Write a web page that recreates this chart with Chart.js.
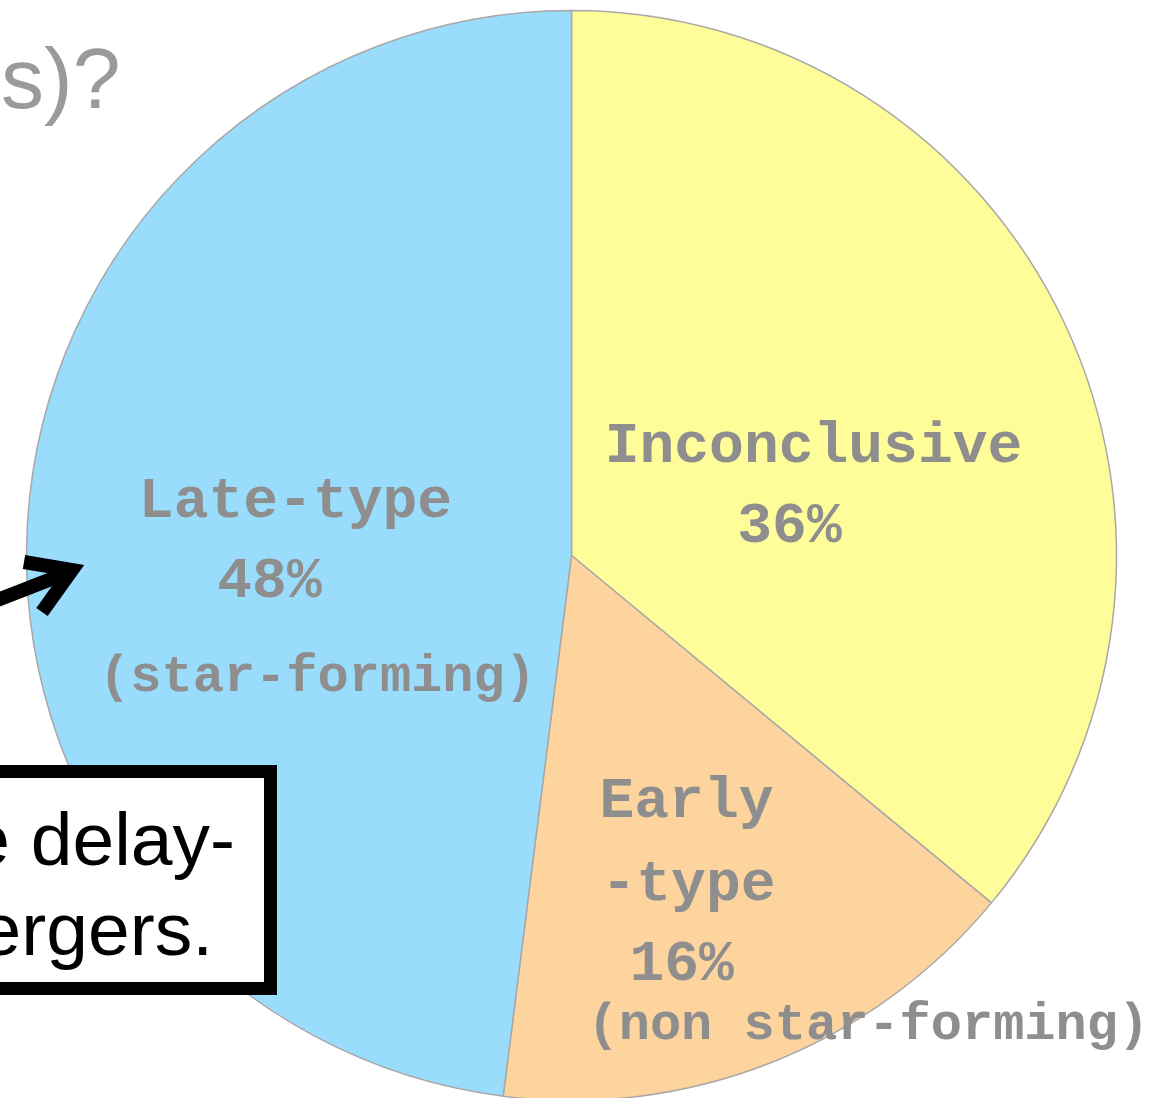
<!DOCTYPE html>
<html>
<head>
<meta charset="utf-8">
<script src="https://cdn.jsdelivr.net/npm/chart.js@4"></script>
<style>
  html, body { margin: 0; padding: 0; background: #fff; }
  #wrap { position: relative; width: 1160px; height: 1098px; overflow: hidden; }
</style>
</head>
<body>
<div id="wrap"><canvas id="typeChart" width="1160" height="1098"></canvas></div>
<script>
// host galaxy classes, clockwise from 12 o'clock
const classes = ['Inconclusive', 'Early-type', 'Late-type'];
const shares = [36, 16, 48];
const notes = ['', '(non star-forming)', '(star-forming)'];
const sliceColors = ['#fffd99', '#fdd49d', '#9adcfc'];

// label lines per slice: dx/dy from pie centre, align
const labelSpots = [
  [{ t: 'Inconclusive', dx: 242, dy: -108, a: 'center' },
   { t: '{v}%', dx: 218, dy: -28, a: 'center' }],
  [{ t: 'Early', dx: 28, dy: 247, a: 'left' },
   { t: '-type', dx: 30, dy: 330, a: 'left' },
   { t: '{v}%', dx: 58, dy: 410, a: 'left' },
   { t: '{n}', dx: 16, dy: 470, a: 'left', s: 52 }],
  [{ t: 'Late-type', dx: -276, dy: -53, a: 'center' },
   { t: '{v}%', dx: -302, dy: 27, a: 'center' },
   { t: '{n}', dx: -254, dy: 122, a: 'center', s: 52 }]
];

const sliceLabels = {
  id: 'sliceLabels',
  afterDatasetsDraw(chart) {
    const ctx = chart.ctx;
    const arc = chart.getDatasetMeta(0).data[0];
    const cx = arc.x, cy = arc.y;
    ctx.save();
    ctx.fillStyle = '#8e8e8e';
    ctx.textBaseline = 'middle';
    labelSpots.forEach((lines, i) => {
      lines.forEach(l => {
        const txt = l.t.replace('{v}', shares[i]).replace('{n}', notes[i]);
        ctx.font = 'bold ' + (l.s || 58) + 'px "Liberation Mono", "Courier New", monospace';
        ctx.textAlign = l.a;
        ctx.fillText(txt, cx + l.dx, cy + l.dy);
      });
    });
    ctx.restore();
  }
};

// slide overlay: title tail, arrow and text box
const slideBits = {
  id: 'slideBits',
  afterDraw(chart) {
    const ctx = chart.ctx;
    ctx.save();
    ctx.fillStyle = '#9a9a9a';
    ctx.font = '86px "Liberation Sans", Arial, sans-serif';
    ctx.textAlign = 'left';
    ctx.textBaseline = 'alphabetic';
    ctx.fillText('s)?', 1, 108);

    // arrow
    ctx.strokeStyle = '#000';
    ctx.lineWidth = 14;
    ctx.lineCap = 'butt';
    ctx.lineJoin = 'miter';
    ctx.beginPath();
    ctx.moveTo(-10, 603);
    ctx.lineTo(72, 571);
    ctx.stroke();
    ctx.beginPath();
    ctx.moveTo(24, 562);
    ctx.lineTo(72, 570);
    ctx.lineTo(42, 612);
    ctx.stroke();

    // box
    ctx.fillStyle = '#fff';
    ctx.fillRect(-20, 765, 297, 230);
    ctx.lineWidth = 13;
    ctx.strokeStyle = '#000';
    ctx.strokeRect(-20 + 6.5, 765 + 6.5, 297 - 13, 230 - 13);
    ctx.fillStyle = '#000';
    ctx.font = '75px "Liberation Sans", Arial, sans-serif';
    ctx.textAlign = 'right';
    ctx.fillText('e delay-', 235, 865);
    ctx.fillText('ergers.', 213, 955);
    ctx.restore();
  }
};

new Chart(document.getElementById('typeChart'), {
  type: 'pie',
  data: {
    labels: classes,
    datasets: [{
      data: shares,
      backgroundColor: sliceColors,
      borderColor: '#a8a8a8',
      borderWidth: 1.5,
      radius: 545
    }]
  },
  options: {
    responsive: false,
    animation: false,
    layout: { padding: { left: 0, right: 17, top: 13, bottom: 0 } },
    plugins: {
      legend: { display: false },
      tooltip: { enabled: false }
    }
  },
  plugins: [sliceLabels, slideBits]
});
</script>
</body>
</html>
